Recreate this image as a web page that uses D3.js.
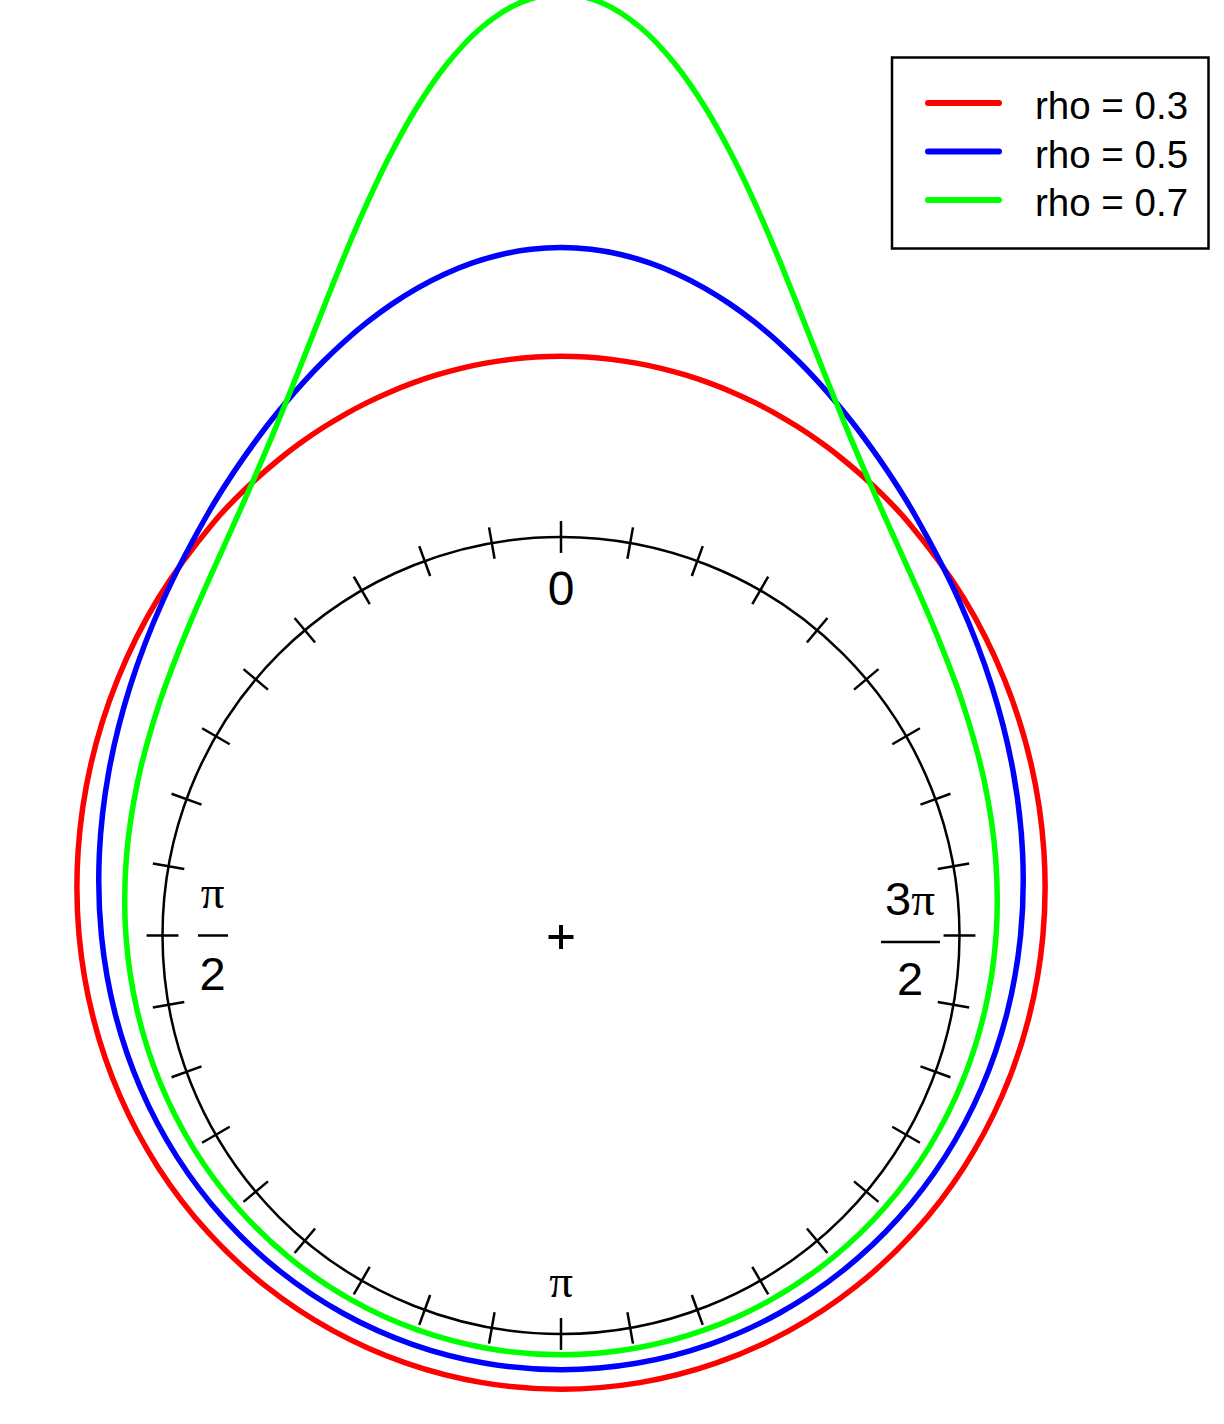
<!DOCTYPE html>
<html>
<head>
<meta charset="utf-8">
<script src="https://cdn.jsdelivr.net/npm/d3@7"></script>
<style>
  html, body { margin: 0; padding: 0; background: #fff; }
  svg { display: block; }
</style>
</head>
<body>
<svg id="chart" width="1224" height="1424"></svg>
<script>
// ---- data (angles in degrees, measured counter-clockwise from the top) ----
const angles = [0,2.5,5,7.5,10,12.5,15,17.5,20,22.5,25,27.5,30,35,40,
  50,60,70,80,90,100,110,120,130,140,150,160,170,180,
  190,200,210,220,230,240,250,260,270,280,290,300,310,320,
  325,330,332.5,335,337.5,340,342.5,345,347.5,350,352.5,355,357.5];

const rho03 = [0.2956,0.2952,0.2942,0.2925,0.2902,0.2872,0.2837,0.2797,0.2753,0.2704,0.2652,0.2597,0.2539,0.2420,0.2298,
  0.2056,0.1833,0.1637,0.1469,0.1329,0.1213,0.1118,0.1042,0.0982,0.0935,0.0900,0.0876,0.0862,0.0857,
  0.0862,0.0876,0.0900,0.0935,0.0982,0.1042,0.1118,0.1213,0.1329,0.1469,0.1637,0.1833,0.2056,0.2298,
  0.2420,0.2539,0.2597,0.2652,0.2704,0.2753,0.2797,0.2837,0.2872,0.2902,0.2925,0.2942,0.2952];

const rho05 = [0.4775,0.4757,0.4703,0.4617,0.4501,0.4361,0.4202,0.4029,0.3847,0.3660,0.3473,0.3288,0.3109,0.2771,0.2466,
  0.1966,0.1592,0.1315,0.1109,0.0955,0.0839,0.0750,0.0682,0.0631,0.0592,0.0564,0.0545,0.0534,0.0531,
  0.0534,0.0545,0.0564,0.0592,0.0631,0.0682,0.0750,0.0839,0.0955,0.1109,0.1315,0.1592,0.1966,0.2466,
  0.2771,0.3109,0.3288,0.3473,0.3660,0.3847,0.4029,0.4202,0.4361,0.4501,0.4617,0.4703,0.4757];

const rho07 = [0.9019,0.8887,0.8515,0.7960,0.7295,0.6589,0.5894,0.5244,0.4653,0.4129,0.3670,0.3271,0.2924,0.2365,0.1944,
  0.1376,0.1028,0.0803,0.0651,0.0545,0.0468,0.0412,0.0371,0.0340,0.0317,0.0300,0.0289,0.0283,0.0281,
  0.0283,0.0289,0.0300,0.0317,0.0340,0.0371,0.0412,0.0468,0.0545,0.0651,0.0803,0.1028,0.1376,0.1944,
  0.2365,0.2924,0.3271,0.3670,0.4129,0.4653,0.5244,0.5894,0.6589,0.7295,0.7960,0.8515,0.8887];

const seriesNames = ["rho = 0.3", "rho = 0.5", "rho = 0.7"];
const seriesColors = ["#ff0000", "#0000ff", "#00ff00"];
const seriesValues = [rho03, rho05, rho07];

// ---- layout ----
const svg = d3.select("#chart");
const cx = 561, cy = 935.5, R = 398.5;

const rScale = d3.scaleLinear().domain([0, 1]).range([1.01 * R, 2.51 * R]);
const toRad = d => d * Math.PI / 180;

const g = svg.append("g").attr("transform", `translate(${cx},${cy})`);

// reference circle
g.append("circle").attr("r", R).attr("fill", "none").attr("stroke", "#000").attr("stroke-width", 2.5);

// ticks every 10 degrees
const tickAngles = d3.range(0, 360, 10);
g.selectAll("line.tick").data(tickAngles).join("line")
  .attr("class", "tick")
  .attr("x1", d => -0.96 * R * Math.sin(toRad(d)))
  .attr("y1", d => -0.96 * R * Math.cos(toRad(d)))
  .attr("x2", d => -1.04 * R * Math.sin(toRad(d)))
  .attr("y2", d => -1.04 * R * Math.cos(toRad(d)))
  .attr("stroke", "#000").attr("stroke-width", 2.5);

// centre cross
g.append("line").attr("x1", -12.5).attr("x2", 12.5).attr("y1", 1.5).attr("y2", 1.5)
  .attr("stroke", "#000").attr("stroke-width", 4);
g.append("line").attr("x1", 0).attr("x2", 0).attr("y1", -10.5).attr("y2", 13.5)
  .attr("stroke", "#000").attr("stroke-width", 4);

// axis labels
const sans = "Liberation Sans, Arial, sans-serif";
const serif = "Liberation Serif, Times New Roman, serif";
const lab = svg.append("g").attr("fill", "#000");
// 0 (top)
lab.append("text").attr("x", cx).attr("y", 605).attr("text-anchor", "middle")
  .attr("font-family", sans).attr("font-size", 48).text("0");
// pi (bottom)
lab.append("text").attr("x", cx).attr("y", 1297).attr("text-anchor", "middle")
  .attr("font-family", serif).attr("font-size", 47).text("π");
// pi/2 (left)
lab.append("text").attr("x", 212.5).attr("y", 908).attr("text-anchor", "middle")
  .attr("font-family", serif).attr("font-size", 47).text("π");
lab.append("line").attr("x1", 198).attr("x2", 228).attr("y1", 935.5).attr("y2", 935.5)
  .attr("stroke", "#000").attr("stroke-width", 2.5);
lab.append("text").attr("x", 212.5).attr("y", 990).attr("text-anchor", "middle")
  .attr("font-family", sans).attr("font-size", 47).text("2");
// 3pi/2 (right)
const t3 = lab.append("text").attr("x", 910).attr("y", 915).attr("text-anchor", "middle").attr("font-size", 47);
t3.append("tspan").attr("font-family", sans).text("3");
t3.append("tspan").attr("font-family", serif).text("π");
lab.append("line").attr("x1", 881).attr("x2", 940).attr("y1", 942).attr("y2", 942)
  .attr("stroke", "#000").attr("stroke-width", 2.5);
lab.append("text").attr("x", 910).attr("y", 995).attr("text-anchor", "middle")
  .attr("font-family", sans).attr("font-size", 47).text("2");

// density curves
const line = d3.lineRadial()
  .angle((d, i) => -toRad(angles[i]))
  .radius(d => rScale(d))
  .curve(d3.curveCatmullRomClosed.alpha(0.5));

seriesValues.forEach((vals, k) => {
  g.append("path").attr("d", line(vals))
    .attr("fill", "none").attr("stroke", seriesColors[k]).attr("stroke-width", 5.5);
});

// legend
const leg = svg.append("g");
leg.append("rect").attr("x", 892).attr("y", 57.5).attr("width", 316.5).attr("height", 191)
  .attr("fill", "#fff").attr("stroke", "#000").attr("stroke-width", 2.5);
seriesNames.forEach((name, k) => {
  const y = 103 + k * 48.5;
  leg.append("line").attr("x1", 928).attr("x2", 999).attr("y1", y).attr("y2", y)
    .attr("stroke", seriesColors[k]).attr("stroke-width", 6).attr("stroke-linecap", "round");
  leg.append("text").attr("x", 1035).attr("y", y + 16)
    .attr("font-family", sans).attr("font-size", 38.5).attr("fill", "#000").text(name);
});
</script>
</body>
</html>
